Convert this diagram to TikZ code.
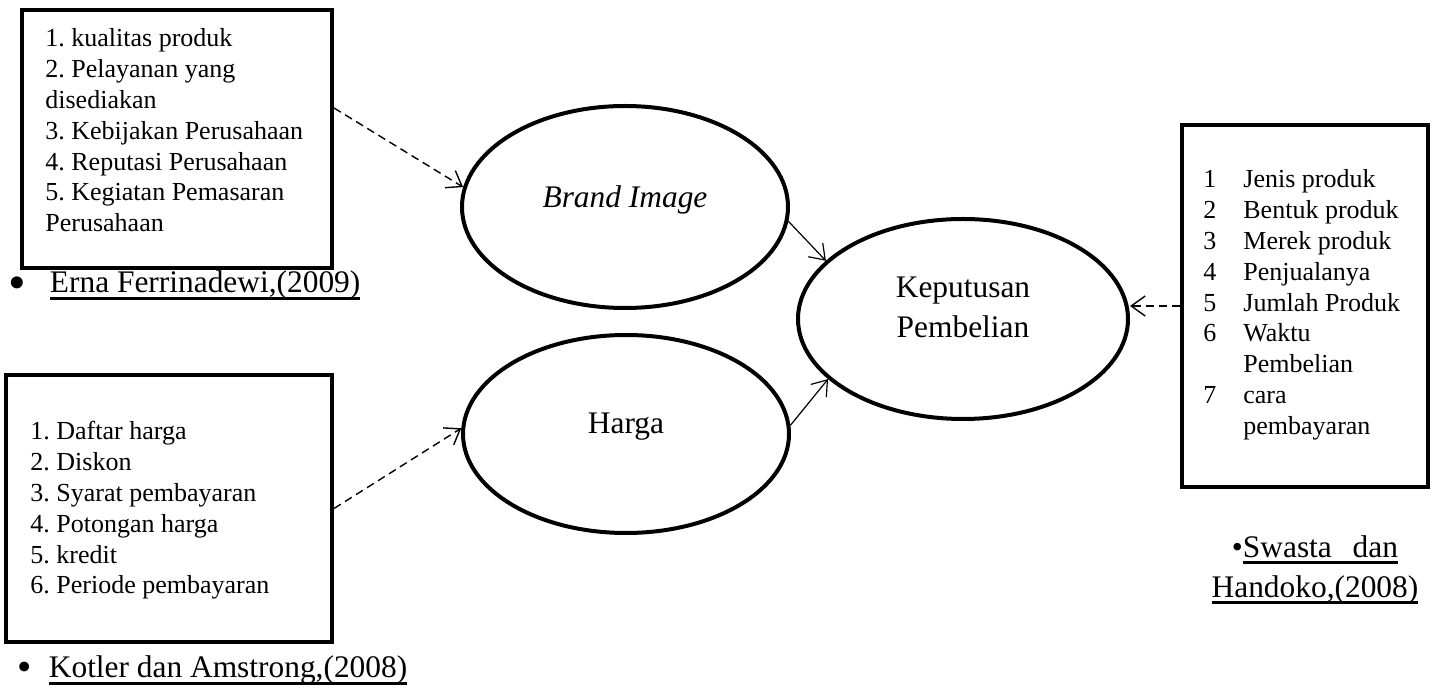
\documentclass[tikz,border=0pt]{standalone}
\usepackage{fontspec}
\setmainfont{Liberation Serif}
\usetikzlibrary{arrows.meta, positioning, shapes.geometric}
\frenchspacing
% underline as drawn in the source (thick, close to baseline)
\newcommand{\srcul}[1]{\setbox0\hbox{#1}\rlap{\rule[-3.3pt]{\wd0}{1.5pt}}\box0}
\newcommand{\bigdot}{\raisebox{-3.2pt}{\scalebox{1.6}{\textbullet}}}

\begin{document}
\begin{tikzpicture}[x=0.5pt, y=-0.5pt,
  box/.style={draw, line width=2pt, inner sep=0pt},
  oval/.style={draw, ellipse, line width=2pt, inner sep=0pt, minimum width=163pt, minimum height=101pt},
  lbl/.style={font=\fontsize{15.7pt}{20pt}\selectfont, yshift=3.6pt},
  items/.style={anchor=base west, inner sep=0pt, font=\fontsize{13pt}{15.4pt}\selectfont},
  src/.style={inner sep=0pt, font=\fontsize{15.7pt}{20pt}\selectfont},
  ind/.style={dash pattern=on 4pt off 2.5pt, line width=0.7pt, -{Straight Barb[length=7pt,width=10pt]}},
  eff/.style={line width=0.6pt, -{Straight Barb[length=7pt,width=10pt]}}]
  \useasboundingbox (0,0) rectangle (1437,689);
  % variables
  \node[oval, label={[lbl]center:\textit{Brand Image}}] (brand) at (625,207) {};
  \node[oval, minimum height=99pt, label={[lbl]center:Harga}] (harga) at (626,434) {};
  \node[oval, minimum width=165pt, minimum height=100pt,
        label={[lbl, yshift=2.4pt, align=center]center:Keputusan\\Pembelian}] (kep) at (963,319) {};
  % indicator boxes
  \node[box, minimum width=155pt, minimum height=129pt] (indBI) at (177,139) {};
  \node[box, minimum width=163pt, minimum height=133.5pt] (indH) at (169,508.5) {};
  \node[box, minimum width=123pt, minimum height=181pt] (indKP) at (1305,306) {};
  \node[items] (itBI) at (45,47) {\begin{tabular}[t]{@{}l@{}}
    1. kualitas produk\\ 2. Pelayanan yang\\ disediakan\\ 3. Kebijakan Perusahaan\\
    4. Reputasi Perusahaan\\ 5. Kegiatan Pemasaran\\ Perusahaan\end{tabular}};
  \node[items] (itH) at (30,440) {\begin{tabular}[t]{@{}l@{}}
    1. Daftar harga\\ 2. Diskon\\ 3. Syarat pembayaran\\ 4. Potongan harga\\
    5. kredit\\ 6. Periode pembayaran\end{tabular}};
  \node[items] (itKP) at (1203,188) {\begin{tabular}[t]{@{}l@{\hspace{13.5pt}}l@{}}
    1 & Jenis produk\\ 2 & Bentuk produk\\ 3 & Merek produk\\ 4 & Penjualanya\\
    5 & Jumlah Produk\\ 6 & Waktu\\ & Pembelian\\ 7 & cara\\ & pembayaran\end{tabular}};
  % sources
  \node[src, anchor=base west] (srcBI) at (8,293) {\bigdot\hspace{12pt}\srcul{Erna Ferrinadewi,(2009)}};
  \node[src, anchor=base west] (srcH) at (17,678) {\raisebox{-1.5pt}{\scalebox{1.3}{\textbullet}}\hspace{8.6pt}\srcul{Kotler dan Amstrong,(2008)}};
  \node[src, anchor=north, align=center] (srcKP) at (1315,535)
    {\textbullet\srcul{Swasta\hspace{10.4pt}dan}\\\srcul{Handoko,(2008)}};
  % connectors
  \draw[ind] ([yshift=15.5pt]indBI.east) -- (brand.173);
  \draw[ind] (indH.east) -- (harga.178);
  \draw[ind] (indKP.west) -- (indKP.west -| kep.east);
  \draw[eff] (brand.-5) -- (kep.157);
  \draw[eff] (harga.3) -- (kep.204);
\end{tikzpicture}
\end{document}
